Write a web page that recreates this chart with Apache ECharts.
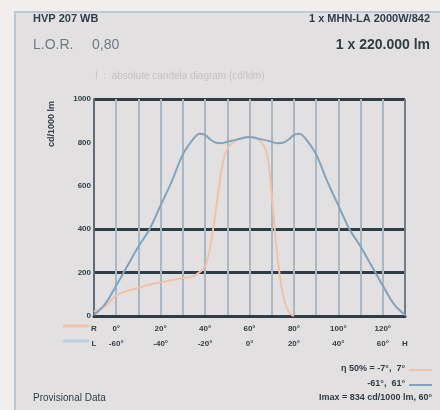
<!DOCTYPE html>
<html>
<head>
<meta charset="utf-8">
<script src="https://cdn.jsdelivr.net/npm/echarts@6/dist/echarts.min.js"></script>
<style>
html, body { margin: 0; padding: 0; background: #f2eeee; }
#main { width: 440px; height: 410px; }
</style>
</head>
<body>
<div id="main"></div>
<script>
// angles on the L scale (deg) and values in cd/1000 lm
var blueAngles = [-70, -65, -60, -55, -50, -45, -40, -35, -30, -25, -22.5, -20, -17.5, -15, -12.5, -10, -5, 0,
    5, 10, 12.5, 15, 17.5, 20, 22.5, 25, 30, 35, 40, 45, 50, 55, 60, 65, 70];
var blueValues = [5, 55, 140, 230, 320, 400, 510, 620, 745, 820, 840, 835, 812, 798, 796, 803, 815, 825,
    815, 803, 796, 798, 812, 835, 840, 820, 745, 620, 510, 400, 320, 230, 140, 55, 5];
var orangeAngles = [-70, -65, -60, -55, -50, -45, -40, -35, -30, -25, -20, -17.5, -15, -12.5, -10, -5, 0,
    5, 8, 10, 12, 14, 16, 18, 20];
var orangeValues = [20, 45, 95, 115, 130, 145, 155, 165, 175, 185, 230, 330, 500, 680, 770, 815, 825,
    805, 740, 560, 330, 160, 60, 15, 0];
var xTicks = [-70, -60, -50, -40, -30, -20, -10, 0, 10, 20, 30, 40, 50, 60, 70];
var rowR = ['R', '0°', '', '20°', '', '40°', '', '60°', '', '80°', '', '100°', '', '120°', ''];
var rowL = ['L', '-60°', '', '-40°', '', '-20°', '', '0°', '', '20°', '', '40°', '', '60°', 'H'];

function pairs(xs, ys) {
    var out = [];
    for (var i = 0; i < xs.length; i++) {
        out.push([xs[i], ys[i]]);
    }
    return out;
}

var dark = '#2f3e46';
var chart = echarts.init(document.getElementById('main'));
var option = {
    animation: false,
    backgroundColor: '#f2eeee',
    textStyle: { fontFamily: 'Liberation Sans, Arial, sans-serif' },
    graphic: [
        { type: 'rect', shape: { x: 15, y: 12, width: 430, height: 405 },
          style: { fill: '#e3e0e2', stroke: '#b9c9d8', lineWidth: 2 } },
        { type: 'text', left: 33, top: 13,
          style: { text: 'HVP 207 WB', font: 'bold 11px Liberation Sans', fill: dark } },
        { type: 'text', right: 10, top: 13,
          style: { text: '1 x MHN-LA 2000W/842', font: 'bold 11px Liberation Sans', fill: dark } },
        { type: 'text', left: 33, top: 38,
          style: { text: 'L.O.R.', font: '14px Liberation Sans', fill: '#6d7a82' } },
        { type: 'text', left: 92, top: 38,
          style: { text: '0,80', font: '14px Liberation Sans', fill: '#6d7a82' } },
        { type: 'text', right: 10, top: 38,
          style: { text: '1 x 220.000 lm', font: 'bold 14px Liberation Sans', fill: dark } },
        { type: 'text', left: 95, top: 71,
          style: { text: 'I  :  absolute candela diagram (cd/klm)', font: '10px Liberation Sans', fill: '#c8bfc3' } },
        { type: 'group', left: 47, top: 101, children: [
            { type: 'text', rotation: Math.PI / 2,
              style: { text: 'cd/1000 lm', font: 'bold 9px Liberation Sans', fill: dark } }
        ] },
        // legend samples next to the angle rows
        { type: 'line', shape: { x1: 63, y1: 326, x2: 89, y2: 326 }, style: { stroke: '#f1c4a8', lineWidth: 3 } },
        { type: 'line', shape: { x1: 63, y1: 341, x2: 89, y2: 341 }, style: { stroke: '#b7cde0', lineWidth: 3 } },
        { type: 'text', right: 35, top: 364,
          style: { text: 'η 50% = -7°,  7°', font: 'bold 9px Liberation Sans', fill: dark } },
        { type: 'line', shape: { x1: 409, y1: 370, x2: 432, y2: 370 }, style: { stroke: '#f1c4a8', lineWidth: 2 } },
        { type: 'text', right: 35, top: 379,
          style: { text: '-61°,  61°', font: 'bold 9px Liberation Sans', fill: dark } },
        { type: 'line', shape: { x1: 409, y1: 385, x2: 432, y2: 385 }, style: { stroke: '#7fa3c0', lineWidth: 2 } },
        { type: 'text', right: 8, top: 393,
          style: { text: 'Imax = 834 cd/1000 lm, 60°', font: 'bold 9px Liberation Sans', fill: dark } },
        { type: 'text', left: 33, top: 393,
          style: { text: 'Provisional Data', font: '10px Liberation Sans', fill: dark } }
    ],
    grid: { left: 94, right: 35, top: 99, bottom: 94, show: true, backgroundColor: '#ebe5e6', borderWidth: 0 },
    xAxis: {
        type: 'value', min: -70, max: 70, interval: 10,
        axisLine: { lineStyle: { color: dark, width: 3 } },
        axisTick: { show: false },
        axisLabel: {
            color: dark, fontSize: 8, fontWeight: 'bold', lineHeight: 15, margin: 5,
            formatter: function (v) {
                var i = xTicks.indexOf(v);
                return i < 0 ? '' : rowR[i] + '\n' + rowL[i];
            }
        },
        splitLine: { show: true, lineStyle: { color: '#a8b8c4', width: 2 } }
    },
    yAxis: {
        type: 'value', min: 0, max: 1000, interval: 200,
        axisLine: { show: true, onZero: false, lineStyle: { color: '#5e6e78', width: 2 } },
        axisTick: { show: false },
        axisLabel: { color: dark, fontSize: 8, fontWeight: 'bold', margin: 3,
            formatter: function (v) { return String(v); } },
        splitLine: { show: true, lineStyle: { width: 3,
            color: ['rgba(0,0,0,0)', dark, dark, 'rgba(0,0,0,0)', 'rgba(0,0,0,0)', dark] } }
    },
    series: [
        {
            type: 'line', data: pairs(orangeAngles, orangeValues), smooth: 0.3, showSymbol: false,
            lineStyle: { color: '#f0c2a6', width: 2 }, z: 3
        },
        {
            type: 'line', data: pairs(blueAngles, blueValues), smooth: 0.3, showSymbol: false,
            lineStyle: { color: '#7fa3c0', width: 2 }, z: 4
        },
        {
            // right frame of the diagram
            type: 'line', data: [[70, 0], [70, 1000]], showSymbol: false, silent: true,
            lineStyle: { color: '#6f7f88', width: 2 }, z: 2
        }
    ]
};
chart.setOption(option);
</script>
</body>
</html>
